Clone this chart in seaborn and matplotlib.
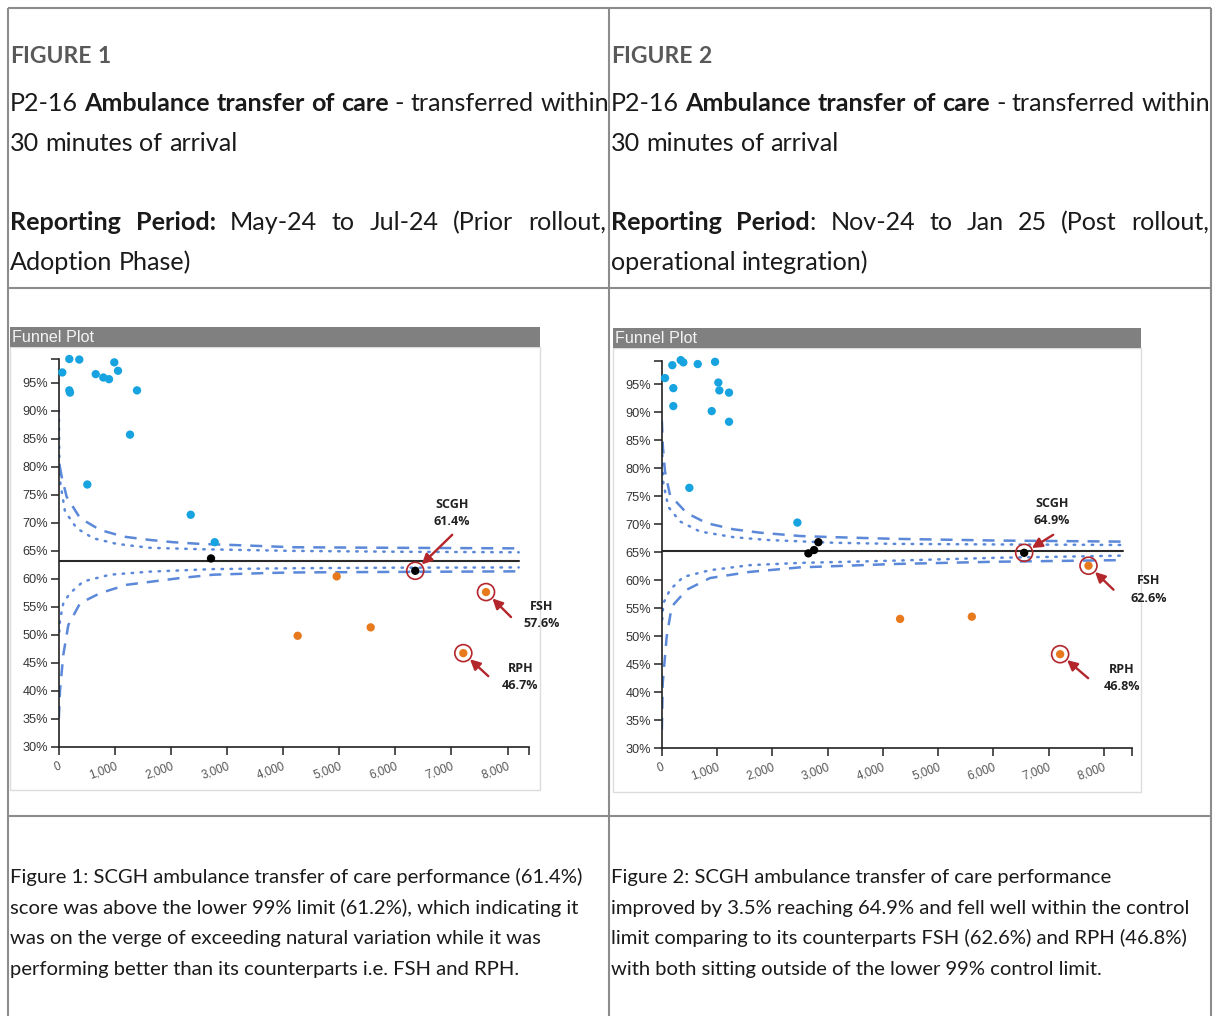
import matplotlib
matplotlib.use("Agg")
import matplotlib.pyplot as plt
from matplotlib.patches import Rectangle
from matplotlib.ticker import FuncFormatter, FixedLocator
import numpy as np
import pandas as pd
import seaborn as sns

# ---------------------------------------------------------------------------
# P2-16 Ambulance transfer of care - transferred within 30 minutes of arrival
# x = number of ambulance arrivals, y = % transferred within 30 minutes
# ---------------------------------------------------------------------------

# Figure 1: May-24 to Jul-24
f1_above_n = [64, 189, 367, 189, 201, 660, 795, 897, 991, 1057, 1396, 1271, 510, 2353, 2781]
f1_above_pct = [96.8, 99.2, 99.1, 93.6, 93.2, 96.5, 95.9, 95.6, 98.6, 97.1, 93.6, 85.7, 76.8, 71.4, 66.5]
f1_within_n = [2715]
f1_within_pct = [63.6]
f1_below_n = [4955, 4260, 5561]
f1_below_pct = [60.4, 49.8, 51.3]
f1_named = ["SCGH", "FSH", "RPH"]
f1_named_n = [6355, 7617, 7212]
f1_named_pct = [61.4, 57.6, 46.7]
f1_named_group = ["within", "below", "below"]
f1_mean = 63.2
f1_mean_n = [0, 8200]
f1_up99_n = [20, 53, 142, 380, 736, 1152, 1627, 2043, 2519, 3113, 4182, 6000, 8200]
f1_up99_pct = [80.0, 78.2, 74.6, 70.8, 68.7, 67.5, 66.9, 66.5, 66.2, 66.0, 65.6, 65.5, 65.4]
f1_up95_n = [3, 10, 30, 112, 320, 617, 1034, 1627, 2519, 4182, 6000, 8200]
f1_up95_pct = [90.0, 82.0, 77.0, 72.0, 69.0, 67.2, 66.2, 65.5, 65.25, 64.95, 64.8, 64.7]
f1_lo99_n = [3, 23, 82, 171, 380, 736, 1212, 2162, 2756, 3708, 4182, 6000, 8200]
f1_lo99_pct = [35.1, 40.0, 46.4, 51.7, 55.6, 57.4, 58.9, 60.1, 60.7, 61.0, 61.1, 61.2, 61.3]
f1_lo95_n = [10, 23, 82, 201, 439, 914, 1627, 2756, 4182, 6000, 8200]
f1_lo95_pct = [50.5, 52.6, 55.6, 57.4, 59.5, 60.7, 61.25, 61.7, 61.85, 61.95, 62.0]

# Figure 2: Nov-24 to Jan-25
f2_above_n = [60, 192, 344, 391, 652, 965, 210, 210, 1025, 1043, 1218, 905, 1218, 500, 2455]
f2_above_pct = [96.1, 98.4, 99.3, 98.9, 98.6, 99.0, 94.3, 91.1, 95.3, 93.9, 93.5, 90.2, 88.3, 76.5, 70.3]
f2_within_n = [2654, 2757, 2835]
f2_within_pct = [64.8, 65.4, 66.8]
f2_below_n = [4313, 5611]
f2_below_pct = [53.1, 53.5]
f2_named = ["SCGH", "FSH", "RPH"]
f2_named_n = [6558, 7722, 7209]
f2_named_pct = [64.9, 62.6, 46.8]
f2_named_group = ["within", "below", "below"]
f2_mean = 65.2
f2_mean_n = [0, 8350]
f2_up99_n = [3, 20, 60, 150, 452, 814, 1296, 1779, 2503, 3106, 4192, 6000, 8350]
f2_up99_pct = [88.5, 84.0, 79.4, 75.2, 72.0, 70.2, 69.1, 68.5, 67.9, 67.7, 67.4, 67.1, 66.9]
f2_up95_n = [5, 30, 120, 331, 693, 1296, 1900, 3106, 4192, 6000, 8350]
f2_up95_pct = [84.0, 77.3, 73.1, 70.5, 68.7, 67.7, 67.2, 66.7, 66.5, 66.4, 66.3]
f2_lo99_n = [3, 18, 90, 181, 452, 874, 1598, 2503, 4192, 6000, 8350]
f2_lo99_pct = [33.3, 41.6, 49.9, 55.3, 58.3, 60.4, 61.5, 62.3, 62.9, 63.3, 63.6]
f2_lo95_n = [10, 30, 150, 391, 874, 1598, 2503, 4192, 6000, 8350]
f2_lo95_pct = [53.0, 55.9, 58.3, 60.6, 61.8, 62.7, 63.1, 63.5, 64.0, 64.4]

y_ticks = [30, 35, 40, 45, 50, 55, 60, 65, 70, 75, 80, 85, 90, 95]
x_ticks = [0, 1000, 2000, 3000, 4000, 5000, 6000, 7000, 8000]

# ---------------------------------------------------------------------------
# styling
# ---------------------------------------------------------------------------
sns.set_theme(style="white")
DOC_FONT = ["Lato", "DejaVu Sans"]
CHART_FONT = ["Liberation Sans", "DejaVu Sans"]
LABEL_FONT = ["Open Sans", "DejaVu Sans"]
plt.rcParams["font.family"] = DOC_FONT

GRID = "#8c8c8c"
TEXT = "#1a1a1a"
HEAD = "#595959"
BLUE = "#17a3e0"
ORANGE = "#e87a1e"
BLACK = "#000000"
LIMIT = "#5b88d8"
RED = "#b3262b"
PALETTE = {"above": BLUE, "within": BLACK, "below": ORANGE}

W, H = 1218, 1016
fig = plt.figure(figsize=(W / 100, H / 100), dpi=100)
fig.patch.set_facecolor("white")
bg = fig.add_axes([0, 0, 1, 1])
bg.set_xlim(0, W)
bg.set_ylim(H, 0)
bg.axis("off")
renderer = fig.canvas.get_renderer()


def text_w(s, size, weight="normal", family=DOC_FONT):
    t = bg.text(0, 0, s, fontsize=size, fontweight=weight, family=family)
    w = t.get_window_extent(renderer=renderer).width
    t.remove()
    return w


def parse(s):
    words = [[]]
    for i, chunk in enumerate(s.split("**")):
        wt = "bold" if i % 2 else "normal"
        for j, p in enumerate(chunk.split(" ")):
            if j > 0:
                words.append([])
            if p:
                words[-1].append((p, wt))
    return [w for w in words if w]


def line_width(s, size):
    words = parse(s)
    sp = text_w("x x", size) - text_w("xx", size)
    return sum(text_w(t, size, wt) for w in words for t, wt in w) + sp * (len(words) - 1)


def draw_line(x, y, s, size, color=TEXT, justify_to=None):
    words = parse(s)
    widths = [[text_w(t, size, wt) for t, wt in w] for w in words]
    total = sum(sum(w) for w in widths)
    if justify_to is not None and len(words) > 1:
        gap = (justify_to - x - total) / (len(words) - 1)
    else:
        gap = text_w("x x", size) - text_w("xx", size)
    cx = x
    for w, ws in zip(words, widths):
        for (t, wt), wd in zip(w, ws):
            bg.text(cx, y, t, fontsize=size, fontweight=wt, color=color,
                    ha="left", va="baseline", family=DOC_FONT)
            cx += wd
        cx += gap


# ---------------------------------------------------------------------------
# table frame
# ---------------------------------------------------------------------------
for xs, ys in [([8, 8], [8, H]), ([1211, 1211], [8, H]), ([609, 609], [8, H]),
               ([8, 1211], [8, 8]), ([8, 1211], [288, 288]), ([8, 1211], [816, 816])]:
    bg.plot(xs, ys, color=GRID, lw=1.5, solid_capstyle="butt")

# header cells
body_size = 12 * 597 / line_width("P2-16 **Ambulance transfer of care** - transferred within", 12)
fig_size = 12 * 100 / text_w("FIGURE 1", 12, "bold")
cols = [
    (10, 606, "FIGURE 1", "**Reporting Period:** May-24 to Jul-24 (Prior rollout,", "Adoption Phase)"),
    (611, 1209, "FIGURE 2", "**Reporting Period**: Nov-24 to Jan 25 (Post rollout,", "operational integration)"),
]
for x0, x1, title, period, period2 in cols:
    draw_line(x0, 63, "**" + title + "**", fig_size, color=HEAD)
    draw_line(x0, 111, "P2-16 **Ambulance transfer of care** - transferred within", body_size)
    draw_line(x0, 151, "30 minutes of arrival", body_size)
    draw_line(x0, 230, period, body_size, justify_to=x1)
    draw_line(x0, 270, period2, body_size)

# caption cells
cap1 = ["Figure 1: SCGH ambulance transfer of care performance (61.4%)",
        "score was above the lower 99% limit (61.2%), which indicating it",
        "was on the verge of exceeding natural variation while it was",
        "performing better than its counterparts i.e. FSH and RPH."]
cap2 = ["Figure 2: SCGH ambulance transfer of care performance",
        "improved by 3.5% reaching 64.9% and fell well within the control",
        "limit comparing to its counterparts FSH (62.6%) and RPH (46.8%)",
        "with both sitting outside of the lower 99% control limit."]
cap_size = min(12 * 594 / text_w(cap1[0], 12), 12 * 577 / text_w(cap2[1], 12))
for x0, lines in [(10, cap1), (611, cap2)]:
    for k, ln in enumerate(lines):
        bg.text(x0, 883 + 30.7 * k, ln, fontsize=cap_size, color=TEXT,
                ha="left", va="baseline", family=DOC_FONT)

# ---------------------------------------------------------------------------
# funnel plots
# ---------------------------------------------------------------------------
def px_axes(left, top, right, bottom):
    return fig.add_axes([left / W, 1 - bottom / H, (right - left) / W, (bottom - top) / H])


def funnel(box, panel, xmax, ymax, d, offsets):
    # chart panel with its grey title bar
    px0, ptop, px1, pbot = panel
    bg.add_patch(Rectangle((px0, ptop + 20), px1 - px0, pbot - ptop - 20,
                           facecolor="white", edgecolor="#dcdcdc", lw=1.0))
    bg.add_patch(Rectangle((px0, ptop), px1 - px0, 20, facecolor="#808080", edgecolor="none"))
    hsize = 12 * 82 / text_w("Funnel Plot", 12, family=CHART_FONT)
    bg.text(px0 + 2, ptop + 10.5, "Funnel Plot", fontsize=hsize, color="#f4f4f4",
            ha="left", va="center", family=CHART_FONT)

    ax = px_axes(*box)
    ax.set_facecolor("none")

    dash = (0, (4.8, 3.6))
    dot = (0, (0.6, 3.0))
    for n, p, ls in [(d["up99_n"], d["up99_pct"], dash), (d["lo99_n"], d["lo99_pct"], dash),
                     (d["up95_n"], d["up95_pct"], dot), (d["lo95_n"], d["lo95_pct"], dot)]:
        sns.lineplot(x=n, y=p, ax=ax, color=LIMIT, lw=1.8, linestyle=ls, sort=True,
                     dash_capstyle="round" if ls is dot else "butt")
    sns.lineplot(x=d["mean_n"], y=[d["mean"]] * len(d["mean_n"]), ax=ax,
                 color="#2a2a2a", lw=1.5)

    pts = pd.DataFrame({
        "n": d["above_n"] + d["within_n"] + d["below_n"] + d["named_n"],
        "pct": d["above_pct"] + d["within_pct"] + d["below_pct"] + d["named_pct"],
        "group": (["above"] * len(d["above_n"]) + ["within"] * len(d["within_n"])
                  + ["below"] * len(d["below_n"]) + d["named_group"]),
    })
    sns.scatterplot(data=pts, x="n", y="pct", hue="group", palette=PALETTE, s=36,
                    edgecolor="none", legend=False, ax=ax, clip_on=False, zorder=4)

    # highlighted hospitals: ring, arrow and value label
    ax.scatter(d["named_n"], d["named_pct"], s=150, facecolors="none",
               edgecolors=RED, linewidths=1.2, zorder=5, clip_on=False)
    for name, n, p in zip(d["named"], d["named_n"], d["named_pct"]):
        (ax_, ay_), (lx, ly) = offsets[name]
        ax.annotate("", xy=(n, p), xytext=(ax_, ay_), textcoords="offset pixels",
                    arrowprops=dict(arrowstyle="-|>,head_length=0.5,head_width=0.25",
                                    color=RED, lw=1.7, shrinkA=0, shrinkB=6.5),
                    annotation_clip=False)
        ax.annotate(f"{name}\n{p:.1f}%", xy=(n, p), xytext=(lx, ly),
                    textcoords="offset pixels", ha="center", va="center",
                    fontsize=9, fontweight="bold", color="#222222",
                    linespacing=1.45, family=LABEL_FONT,
                    annotation_clip=False)

    ax.set_xlim(0, xmax)
    ax.set_ylim(30, ymax)
    ax.set_xlabel("")
    ax.set_ylabel("")
    for s in ["top", "right"]:
        ax.spines[s].set_visible(False)
    for s in ["left", "bottom"]:
        ax.spines[s].set_color("#222222")
        ax.spines[s].set_linewidth(1.2)
    ax.xaxis.set_major_locator(FixedLocator(x_ticks))
    ax.yaxis.set_major_locator(FixedLocator(y_ticks))
    ax.xaxis.set_minor_locator(FixedLocator([xmax]))
    ax.yaxis.set_minor_locator(FixedLocator([ymax]))
    ax.xaxis.set_major_formatter(FuncFormatter(lambda v, _: f"{v:,.0f}"))
    ax.yaxis.set_major_formatter(FuncFormatter(lambda v, _: f"{v:.0f}%"))
    ax.tick_params(axis="both", which="both", direction="out", length=5.5, width=1.1,
                   color="#222222", left=True, bottom=True)
    ax.tick_params(axis="y", which="major", labelsize=9.2, labelcolor="#333333", pad=2)
    ax.tick_params(axis="x", which="major", labelsize=8.4, labelcolor="#555555", pad=4)
    for lbl in ax.get_yticklabels():
        lbl.set_family(CHART_FONT)
    for lbl in ax.get_xticklabels():
        lbl.set_family(CHART_FONT)
        lbl.set_rotation(20)
        lbl.set_ha("right")
        lbl.set_va("top")
        lbl.set_rotation_mode("anchor")
    return ax


d1 = dict(above_n=f1_above_n, above_pct=f1_above_pct, within_n=f1_within_n,
          within_pct=f1_within_pct, below_n=f1_below_n, below_pct=f1_below_pct,
          named=f1_named, named_n=f1_named_n, named_pct=f1_named_pct,
          named_group=f1_named_group, mean=f1_mean, mean_n=f1_mean_n,
          up99_n=f1_up99_n, up99_pct=f1_up99_pct, up95_n=f1_up95_n, up95_pct=f1_up95_pct,
          lo99_n=f1_lo99_n, lo99_pct=f1_lo99_pct, lo95_n=f1_lo95_n, lo95_pct=f1_lo95_pct)
d2 = dict(above_n=f2_above_n, above_pct=f2_above_pct, within_n=f2_within_n,
          within_pct=f2_within_pct, below_n=f2_below_n, below_pct=f2_below_pct,
          named=f2_named, named_n=f2_named_n, named_pct=f2_named_pct,
          named_group=f2_named_group, mean=f2_mean, mean_n=f2_mean_n,
          up99_n=f2_up99_n, up99_pct=f2_up99_pct, up95_n=f2_up95_n, up95_pct=f2_up95_pct,
          lo99_n=f2_lo99_n, lo99_pct=f2_lo99_pct, lo95_n=f2_lo95_n, lo95_pct=f2_lo95_pct)

# (arrow tail offset, label offset) in pixels from each highlighted point
off1 = {"SCGH": ((37, 36), (37, 58)), "FSH": ((25, -25), (56, -23)), "RPH": ((25, -23), (57, -24))}
off2 = {"SCGH": ((29, 18), (28, 41)), "FSH": ((25, -24), (60, -24)), "RPH": ((28, -24), (62, -24))}

funnel((58.7, 359.0, 529.4, 746.7), (10, 327, 540, 790), 8390, 99.2, d1, off1)
funnel((661.7, 360.7, 1131.5, 748.3), (613, 328, 1141, 792), 8500, 99.2, d2, off2)

fig.savefig("out.png", dpi=100, facecolor="white")
